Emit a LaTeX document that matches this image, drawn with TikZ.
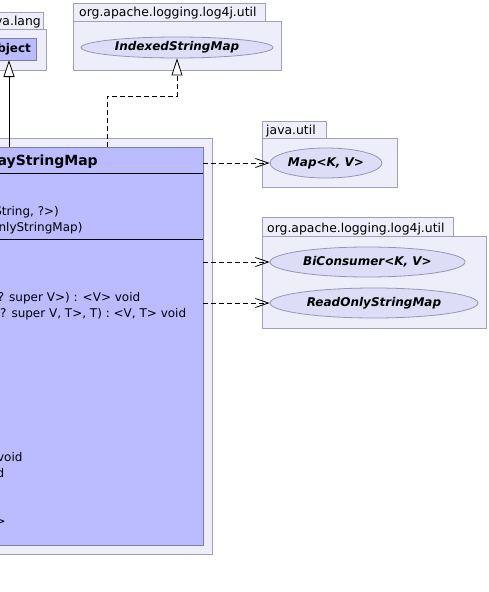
\documentclass[tikz,border=0pt]{standalone}
\usepackage{fontspec}
\setmainfont{DejaVu Sans}
\usetikzlibrary{arrows.meta,shapes.geometric}

\definecolor{pkgfill}{RGB}{238,238,250}
\definecolor{pkgline}{RGB}{160,160,190}
\definecolor{clsfill}{RGB}{187,187,255}
\definecolor{clsline}{RGB}{125,125,170}
\definecolor{ellfill}{RGB}{221,221,247}
\definecolor{ellline}{RGB}{150,150,185}

\tikzset{
  box/.style={draw, inner sep=0pt, outer sep=0pt, anchor=north west},
  pkg/.style={box, fill=pkgfill, draw=pkgline, line width=0.8pt},
  cls/.style={box, fill=clsfill, draw=clsline, line width=0.8pt},
  iface/.style={ellipse, draw=ellline, fill=ellfill, line width=0.8pt,
    inner sep=0pt, font=\fontsize{12}{14}\selectfont\bfseries\itshape},
  txt/.style={inner sep=0pt, font=\fontsize{12}{14}\selectfont},
  pkglabel/.style={txt, anchor=base west, font=\fontsize{12.4}{14}\selectfont},
  member/.style={txt, anchor=base west},
  gen/.style={line width=0.8pt, -{Triangle[length=17pt,width=11pt,fill=white]}},
  real/.style={gen, dash pattern=on 5pt off 3pt},
  dep/.style={line width=0.8pt, dash pattern=on 5pt off 3pt,
    -{Straight Barb[length=13pt,width=9pt]}},
  sep/.style={line width=0.8pt, black}
}

\begin{document}
\begin{tikzpicture}[x=1pt, y=-1pt]
  \useasboundingbox (0,0) rectangle (488,592);
  \clip (0,0) rectangle (488,592);

  % package java.lang with Object
  \node[pkg, minimum width=71pt, minimum height=17pt] (langtab) at (-28,12) {};
  \node[pkg, minimum width=74pt, minimum height=41pt] (lang) at (-28,29) {};
  \node[pkglabel, anchor=base east] (langname) at (41,25) {java.lang};
  \node[cls, minimum width=54pt, minimum height=22pt] (obj) at (-18,38) {};
  \node[txt, font=\fontsize{12}{14}\selectfont\bfseries] (objname) at (obj.center) {Object};

  % package org.apache.logging.log4j.util (top)
  \node[pkg, minimum width=192pt, minimum height=18pt] (utiltab) at (73,3) {};
  \node[pkg, minimum width=208pt, minimum height=49pt] (util) at (73,21) {};
  \node[pkglabel] (utilname) at (79,16) {org.apache.logging.log4j.util};
  \node[iface, minimum width=192pt, minimum height=21pt] (idx) at (177,47.5) {IndexedStringMap};

  % package java.util
  \node[pkg, minimum width=64pt, minimum height=17pt] (jutab) at (262,121) {};
  \node[pkg, minimum width=135pt, minimum height=49pt] (ju) at (262,138) {};
  \node[pkglabel] (juname) at (266,134) {java.util};
  \node[iface, minimum width=112pt, minimum height=30pt] (map) at (326,163) {Map<K, V>};

  % package org.apache.logging.log4j.util (right)
  \node[pkg, minimum width=191pt, minimum height=19pt] (logtab) at (262,217) {};
  \node[pkg, minimum width=224pt, minimum height=92pt] (log) at (262,236) {};
  \node[pkglabel] (logname) at (267,232) {org.apache.logging.log4j.util};
  \node[iface, minimum width=195pt, minimum height=30pt] (bic) at (367.5,262) {BiConsumer<K, V>};
  \node[iface, minimum width=208pt, minimum height=30pt] (ros) at (374,303) {ReadOnlyStringMap};

  % class SortedArrayStringMap
  \node[pkg, minimum width=406pt, minimum height=416pt] (panel) at (-194,138) {};
  \node[cls, minimum width=388pt, minimum height=398pt] (cls) at (-185,147) {};
  \node[txt, anchor=base, font=\fontsize{14}{16}\selectfont\bfseries] (clsname)
    at (9,165) {SortedArrayStringMap};
  \draw[sep] (-185,173) -- (203,173);
  \draw[sep] (-185,239) -- (203,239);

  % constructors
  \node[member] (c3) at (-179,215) {SortedArrayStringMap(Map<String, ?>)};
  \node[member] (c4) at (-179,231) {SortedArrayStringMap(ReadOnlyStringMap)};

  % methods
  \node[member] (m4) at (-179,301) {forEach(BiConsumer<String, ? super V>) : <V> void};
  \node[member] (m5) at (-179,317) {forEach(TriConsumer<String, ? super V, T>, T) : <V, T> void};
  \node[member] (m14) at (-179,461) {putAll(ReadOnlyStringMap) : void};
  \node[member] (m15) at (-179,477) {putValue(String, Object) : void};
  \node[member] (m18) at (-179,525) {toMap() : Map<String, String>};

  % relations
  \coordinate (bend) at (107,96);
  \draw[gen] (cls.north -| obj.south) -- (obj.south);
  \draw[real] (cls.north -| bend) -- (bend) -| (idx.south);
  \draw[dep] (cls.east |- map) -- (map.west);
  \draw[dep] (cls.east |- bic) -- (bic.west);
  \draw[dep] (cls.east |- ros) -- (ros.west);
\end{tikzpicture}
\end{document}
